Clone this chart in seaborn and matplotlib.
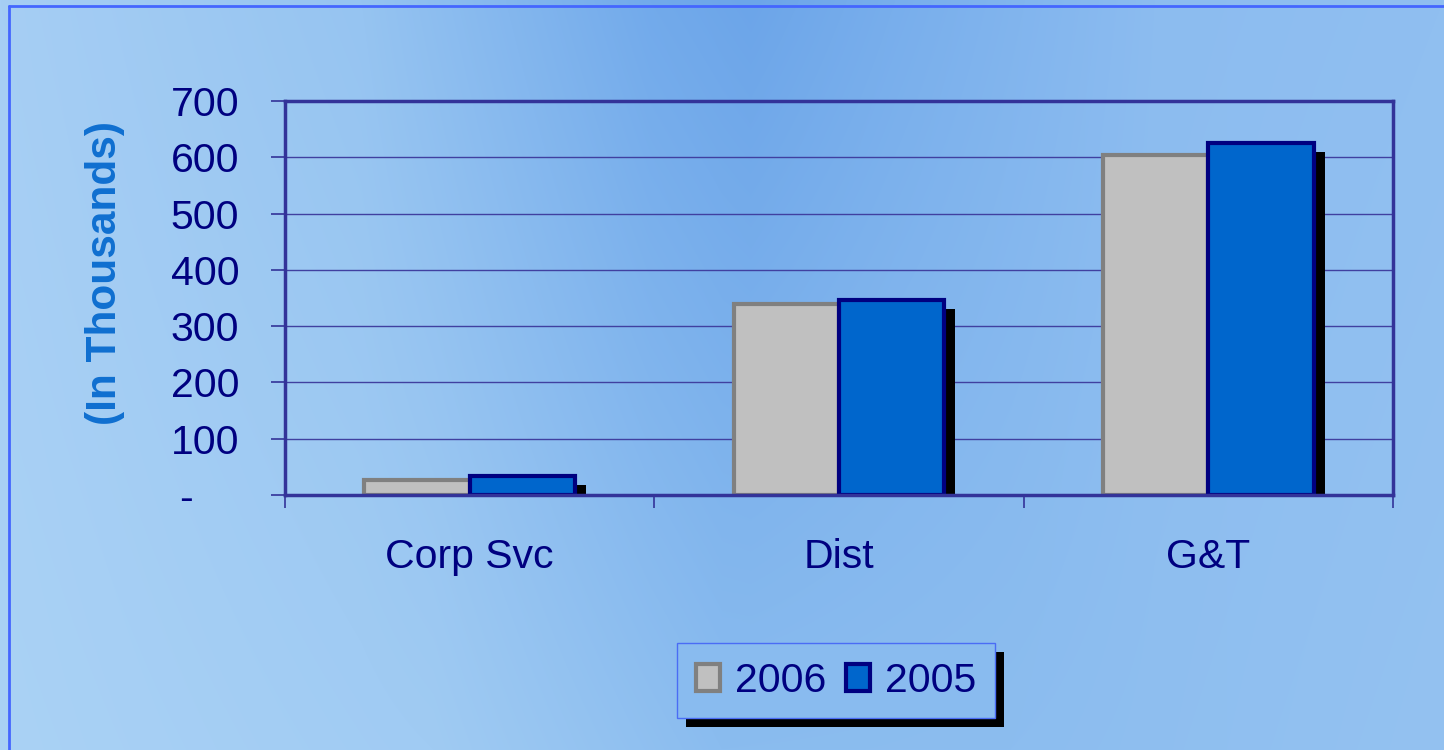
import numpy as np
import pandas as pd
import matplotlib
matplotlib.use('Agg')
import matplotlib.pyplot as plt
import matplotlib.patheffects as pe
from matplotlib.patches import Patch
from matplotlib.lines import Line2D
import seaborn as sns

categories = ['Corp Svc', 'Dist', 'G&T']
years = ['2006', '2005']
values_2006 = [27, 339, 604]
values_2005 = [34, 346, 625]
y_ticks = [0, 100, 200, 300, 400, 500, 600, 700]
y_tick_labels = ['-    ', '100', '200', '300', '400', '500', '600', '700']
y_label = '(In Thousands)'

colors = {'2006': '#c0c0c0', '2005': '#0066cc'}
edges = {'2006': '#808080', '2005': '#000080'}
NAVY = '#000080'
AXIS = '#333399'

df = pd.DataFrame({
    'segment': categories * 2,
    'year': [years[0]] * 3 + [years[1]] * 3,
    'value': values_2006 + values_2005,
})

sns.set_theme(style='white')
plt.rcParams['font.family'] = ['Liberation Sans', 'DejaVu Sans']

W, H = 1444, 750
fig = plt.figure(figsize=(W / 100, H / 100), dpi=100)


# background gradient, darker band in the middle top
def profile(anchors, xs):
    pos = [a[0] for a in anchors]
    return np.stack([np.interp(xs, pos, [a[1][c] for a in anchors]) for c in range(3)], axis=-1)


xs = np.linspace(0, 1, W)
top = profile([(0, (166, 206, 244)), (0.25, (150, 196, 241)), (0.45, (114, 170, 235)),
               (0.52, (108, 165, 233)), (0.62, (120, 174, 236)), (0.8, (140, 188, 240)),
               (1, (144, 191, 240))], xs)
bottom = profile([(0, (170, 210, 245)), (0.3, (160, 203, 243)), (0.5, (138, 188, 239)),
                  (0.7, (140, 189, 239)), (1, (148, 194, 241))], xs)
t = np.linspace(0, 1, H)[:, None, None]
grad = (top[None, :, :] * (1 - t) + bottom[None, :, :] * t) / 255.0

bg = fig.add_axes([0, 0, 1, 1], zorder=-10)
bg.imshow(grad, aspect='auto', extent=(0, 1, 0, 1), origin='upper')
bg.set_axis_off()

fig.add_artist(Line2D([9 / W, 9 / W], [0, 1 - 6 / H], color='#4466ff', lw=2))
fig.add_artist(Line2D([9 / W, 1], [1 - 6 / H, 1 - 6 / H], color='#4466ff', lw=2))

ax = fig.add_axes([285 / W, 1 - 495 / H, (1393 - 285) / W, (495 - 101) / H])
ax.patch.set_alpha(0)

sns.barplot(data=df, x='segment', y='value', hue='year', hue_order=years,
            palette=colors, width=0.57, gap=0, saturation=1, linewidth=3,
            legend=False, ax=ax)

for cont, yr in zip(ax.containers, years):
    for bar in cont:
        bar.set_edgecolor(edges[yr])
        bar.set_linewidth(3)
        bar.set_path_effects([pe.SimplePatchShadow(offset=(8, -6.5), shadow_rgbFace='black', alpha=1.0),
                              pe.Normal()])

ax.set_ylim(0, 700)
ax.set_xlim(-0.5, 2.5)
ax.set_yticks(y_ticks)
ax.set_yticklabels(y_tick_labels)
ax.set_xlabel('')
ax.set_ylabel('')
ax.set_axisbelow(True)
ax.yaxis.grid(True, color='#4040a0', lw=1)
ax.xaxis.grid(False)

for s in ax.spines.values():
    s.set_color(AXIS)
    s.set_linewidth(2.5)

ax.tick_params(axis='y', which='major', left=True, length=10, width=1.2, color=AXIS,
               pad=23, labelsize=29.5, labelcolor=NAVY)
ax.set_xticks([-0.5, 0.5, 1.5, 2.5], minor=True)
ax.tick_params(axis='x', which='minor', bottom=True, length=9, width=1.2, color=AXIS)
ax.tick_params(axis='x', which='major', bottom=False, length=0, pad=31,
               labelsize=29.5, labelcolor=NAVY)

fig.text(105 / W, 1 - 273 / H, y_label, rotation=90, ha='center', va='center',
         fontsize=30.5, fontweight='bold', color='#0f6fd0')

# legend box colour taken from the gradient behind it
leg_face = tuple(grad[680, 836])
handles = [Patch(facecolor=colors[y], edgecolor=edges[y], linewidth=3, label=y) for y in years]
leg = fig.legend(handles=handles, loc='center', bbox_to_anchor=(836 / W, 1 - 680.5 / H),
                 ncol=2, fontsize=29.5, frameon=True, fancybox=False, framealpha=1,
                 facecolor=leg_face, edgecolor='#4a6cf5', handlelength=0.6, handleheight=0.64,
                 handletextpad=0.36, columnspacing=0.48, borderpad=0.45)
for txt in leg.get_texts():
    txt.set_color(NAVY)
leg.get_frame().set_linewidth(1)
leg.get_frame().set_path_effects([pe.SimplePatchShadow(offset=(6.5, -6.5), shadow_rgbFace='black', alpha=1.0),
                                  pe.Normal()])

fig.savefig('out.png', dpi=100)
